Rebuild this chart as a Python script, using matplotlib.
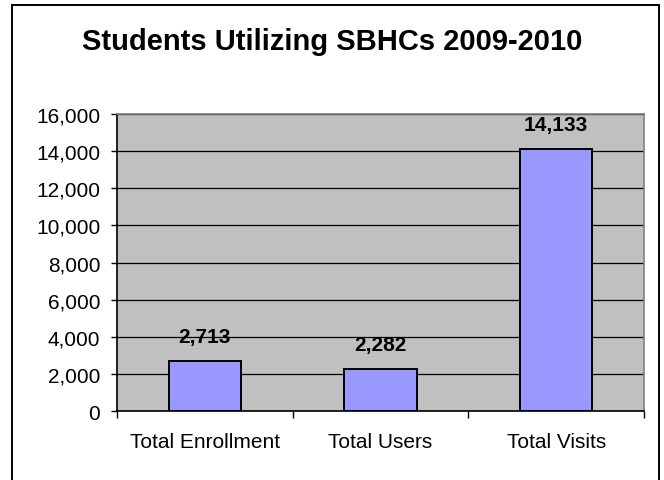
import matplotlib
matplotlib.use("Agg")
import matplotlib.pyplot as plt
from matplotlib.patches import Rectangle
from matplotlib.ticker import FuncFormatter, MultipleLocator

categories = ["Total Enrollment", "Total Users", "Total Visits"]
values = [2713, 2282, 14133]
title = "Students Utilizing SBHCs 2009-2010"

plt.rcParams['font.family'] = ['Liberation Sans', 'DejaVu Sans']

W, H = 664, 481
fig = plt.figure(figsize=(W / 100, H / 100), dpi=100)

# outer chart border
fig.patches.append(Rectangle((12 / W, -0.01), (659 - 12) / W, 1.01 - 6 / H,
                             transform=fig.transFigure, fill=False,
                             edgecolor="black", linewidth=1.4))

left, right, top, bottom = 117, 644, 115, 412
ax = fig.add_axes([left / W, 1 - bottom / H, (right - left) / W, (bottom - top) / H])
ax.set_facecolor("#C0C0C0")

x = range(len(categories))
ax.bar(x, values, width=0.41, color="#9999FF", edgecolor="black",
       linewidth=1.4, zorder=3)
for xi, v in zip(x, values):
    ax.text(xi, v + 1024, f"{v:,}", ha="center", va="baseline",
            fontsize=15, fontweight="bold", zorder=4)

ax.set_xlim(-0.5, len(categories) - 0.5)
ax.set_ylim(0, 16000)
ax.yaxis.set_major_locator(MultipleLocator(2000))
ax.yaxis.set_major_formatter(FuncFormatter(lambda v, p: f"{int(v):,}"))
ax.grid(axis="y", color="black", linewidth=0.9, zorder=1)
ax.set_axisbelow(True)

ax.set_xticks([i + 0.5 for i in range(-1, len(categories))])
ax.set_xticklabels([])
ax.set_xticks(list(x), minor=True)
ax.set_xticklabels(categories, minor=True)
ax.tick_params(axis="x", which="minor", length=0, pad=15, labelsize=15)
ax.tick_params(axis="x", which="major", length=5, width=1, direction="out")
ax.tick_params(axis="y", length=4.5, width=1, direction="out", labelsize=15, pad=7.5)

for s in ["top", "right"]:
    ax.spines[s].set_color("#808080")
    ax.spines[s].set_linewidth(1.2)
for s in ["left", "bottom"]:
    ax.spines[s].set_color("black")
    ax.spines[s].set_linewidth(1.2)

fig.text(0.5, 1 - 50 / H, title, ha="center", va="baseline",
         fontsize=21, fontweight="bold")

fig.savefig("out.png", dpi=100)
